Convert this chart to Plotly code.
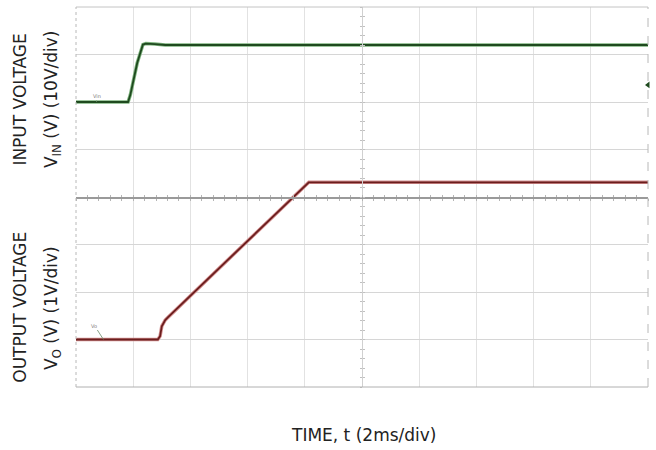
import plotly.graph_objects as go

# ---- data (time and voltage in scope divisions) ----
vin_t = [0.0, 0.91, 0.95, 1.0, 1.07, 1.17, 1.22, 1.38, 1.56, 10.0]
vin_v = [2.0, 2.0, 2.15, 2.46, 2.82, 3.21, 3.23, 3.22, 3.2, 3.2]

vo_t = [0.0, 1.43, 1.47, 1.50, 1.56, 1.61, 4.07, 10.0]
vo_v = [-3.0, -3.0, -2.93, -2.72, -2.59, -2.53, 0.31, 0.31]

x_range = [0, 10]
y_range = [-4, 4]

GREEN_CORE = "#1f4a1f"
GREEN_HALO = "#7fb47f"
RED_CORE = "#6b1e1e"
RED_HALO = "#d49090"

fig = go.Figure()

# halos
fig.add_trace(go.Scatter(x=vin_t, y=vin_v, mode="lines",
                         line=dict(color=GREEN_HALO, width=3.5), hoverinfo="skip"))
fig.add_trace(go.Scatter(x=vo_t, y=vo_v, mode="lines",
                         line=dict(color=RED_HALO, width=3.5), hoverinfo="skip"))
# cores
fig.add_trace(go.Scatter(x=vin_t, y=vin_v, mode="lines",
                         line=dict(color=GREEN_CORE, width=1.8), name="Vin"))
fig.add_trace(go.Scatter(x=vo_t, y=vo_v, mode="lines",
                         line=dict(color=RED_CORE, width=1.8), name="Vo"))

# right-edge channel marker and trigger marker
fig.add_trace(go.Scatter(x=[x_range[1]], y=[2.36], mode="markers",
                         marker=dict(symbol="triangle-left", size=6, color=GREEN_CORE),
                         cliponaxis=False, hoverinfo="skip"))
fig.add_trace(go.Scatter(x=[0.99], y=[-4.05], mode="markers",
                         marker=dict(symbol="line-ns", size=3,
                                     line=dict(color="#555", width=1)),
                         cliponaxis=False, hoverinfo="skip"))

# dummy traces to activate centre-line tick axes
for xa, ya in [("x2", "y"), ("x3", "y"), ("x", "y2"), ("x", "y3")]:
    fig.add_trace(go.Scatter(x=[None], y=[None], xaxis=xa, yaxis=ya,
                             hoverinfo="skip"))

common = dict(showticklabels=False, zeroline=False, fixedrange=True, automargin=False)

fig.update_layout(
    width=656, height=450,
    margin=dict(l=76, r=8, t=7, b=63, autoexpand=False),
    paper_bgcolor="white", plot_bgcolor="white",
    showlegend=False,
    font=dict(family="DejaVu Sans", color="#222"),
    xaxis=dict(range=x_range, dtick=1, showgrid=True, gridcolor="#e2e2e2",
               gridwidth=1, showline=False, ticks="", **common),
    yaxis=dict(range=y_range, dtick=1, showgrid=True, gridcolor="#d6d6d6",
               gridwidth=1, showline=False, ticks="", **common),
    xaxis2=dict(range=x_range, overlaying="x", anchor="free", position=0.5,
                showline=True, linecolor="#9a9a9a", linewidth=1.5,
                ticks="outside", ticklen=2, tickcolor="#b5b5b5", dtick=0.2,
                showgrid=False, **common),
    xaxis3=dict(range=x_range, overlaying="x", anchor="free", position=0.5,
                showline=False, ticks="inside", ticklen=2, tickcolor="#b5b5b5",
                dtick=0.2, showgrid=False, **common),
    yaxis2=dict(range=y_range, overlaying="y", anchor="free", position=0.5,
                showline=True, linecolor="#d0d0d0", linewidth=1,
                ticks="outside", ticklen=2, tickcolor="#c0c0c0", dtick=0.2,
                showgrid=False, **common),
    yaxis3=dict(range=y_range, overlaying="y", anchor="free", position=0.5,
                showline=False, ticks="inside", ticklen=2, tickcolor="#c0c0c0",
                dtick=0.2, showgrid=False, **common),
)

# borders
fig.add_shape(type="line", xref="paper", yref="paper", x0=0, x1=1, y0=1, y1=1,
              line=dict(color="#c4c4c4", width=1))
fig.add_shape(type="line", xref="paper", yref="paper", x0=0, x1=1, y0=0, y1=0,
              line=dict(color="#b0b0b0", width=1))
fig.add_shape(type="line", xref="paper", yref="paper", x0=0, x1=0, y0=0, y1=1,
              line=dict(color="#b8b8b8", width=1, dash="dot"))
fig.add_shape(type="line", xref="paper", yref="paper", x0=1, x1=1, y0=0, y1=1,
              line=dict(color="#b8b8b8", width=1, dash="dash"))

# axis titles
FS = 17
ann = [
    dict(text="INPUT VOLTAGE", x=-0.097, y=0.755),
    dict(text="V<sub>IN</sub> (V) (10V/div)", x=-0.04, y=0.758),
    dict(text="OUTPUT VOLTAGE", x=-0.097, y=0.21),
    dict(text="V<sub>O</sub> (V) (1V/div)", x=-0.04, y=0.208),
]
for a in ann:
    fig.add_annotation(text=a["text"], x=a["x"], y=a["y"], xref="paper", yref="paper",
                       textangle=-90, showarrow=False, font=dict(size=FS, color="#222"),
                       xanchor="center", yanchor="middle")

fig.add_annotation(text="TIME, t (2ms/div)", x=0.502, y=-0.126, xref="paper",
                   yref="paper", showarrow=False, font=dict(size=FS, color="#222"),
                   xanchor="center", yanchor="middle")

# tiny scope channel labels
fig.add_annotation(text="Vin", x=0.36, y=2.0, ax=0, ay=-6, xref="x", yref="y",
                   showarrow=True, arrowhead=0, arrowwidth=0.8, arrowcolor="#6a8a6a",
                   font=dict(size=5, color="#777"))
fig.add_annotation(text="Vo", x=0.48, y=-3.0, ax=-9, ay=-14, xref="x", yref="y",
                   showarrow=True, arrowhead=0, arrowwidth=0.8, arrowcolor="#6a8a6a",
                   font=dict(size=5, color="#777"))

fig.write_html("out.html", config={"displayModeBar": False, "staticPlot": True},
               post_script="document.body.style.margin='0';document.body.style.overflow='hidden';")
